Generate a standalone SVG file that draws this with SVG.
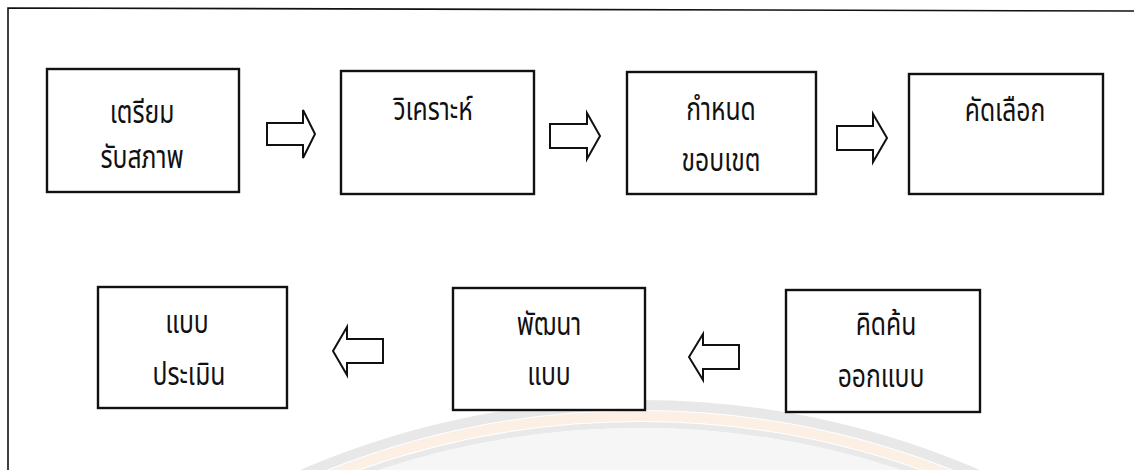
<svg xmlns="http://www.w3.org/2000/svg" width="1134" height="470" viewBox="0 0 1134 470">
<style>
.box{fill:#fff;stroke:#111;stroke-width:2.4}
.arr{fill:#fff;stroke:#111;stroke-width:2;stroke-linejoin:miter}
.t{font-family:"Noto Sans Thai","Tlwg Typo","Loma","Garuda","Noto Sans",sans-serif;font-size:26px;fill:#111;text-anchor:middle}
</style>
<rect width="1134" height="470" fill="#fff"/>
<g id="watermark" fill="none">
<circle cx="640" cy="1261" r="856" stroke="#e8e8e8" stroke-width="10"/>
<circle cx="640" cy="1261" r="845" stroke="#fcefe4" stroke-width="10"/>
<circle cx="640" cy="1261" r="836" stroke="#e9e9e9" stroke-width="6"/>
<circle cx="640" cy="1261" r="800" stroke="#f6f6f6" stroke-width="66"/>
</g>
<polyline id="frame" points="1134,11 8,8 8,470" fill="none" stroke="#111" stroke-width="1.6"/>
<g id="connectors">
<path class="arr" d="M267,123 H303 V110 L315,134 L303,158 V145 H267 Z"/>
<path class="arr" d="M550,124 H587 V113 L600,136 L587,159 V148 H550 Z"/>
<path class="arr" d="M837,126 H873 V114 L887,138 L873,162 V150 H837 Z"/>
<path class="arr" d="M383,339 H347 V327 L333,351 L347,375 V363 H383 Z"/>
<path class="arr" d="M739,345 H703 V334 L689,357 L703,380 V369 H739 Z"/>
</g>
<g id="n1"><rect class="box" x="47" y="69" width="192" height="123"/>
<text class="t" transform="translate(142,123) scale(0.95,1.2)">เตรียม</text><text class="t" transform="translate(142,168) scale(0.95,1.2)">รับสภาพ</text></g>
<g id="n2"><rect class="box" x="341" y="71" width="193" height="123"/>
<text class="t" transform="translate(433,120) scale(0.95,1.2)">วิเคราะห์</text></g>
<g id="n3"><rect class="box" x="627" y="72" width="189" height="122"/>
<text class="t" transform="translate(721,120) scale(0.95,1.2)">กำหนด</text><text class="t" transform="translate(721,171) scale(0.95,1.2)">ขอบเขต</text></g>
<g id="n4"><rect class="box" x="909" y="74" width="194" height="120"/>
<text class="t" transform="translate(1005,121) scale(0.95,1.2)">คัดเลือก</text></g>
<g id="n5"><rect class="box" x="98" y="287" width="189" height="121"/>
<text class="t" transform="translate(187,333) scale(0.95,1.2)">แบบ</text><text class="t" transform="translate(189,385) scale(0.95,1.2)">ประเมิน</text></g>
<g id="n6"><rect class="box" x="453" y="288" width="192" height="122"/>
<text class="t" transform="translate(549,335) scale(0.95,1.2)">พัฒนา</text><text class="t" transform="translate(549,385) scale(0.95,1.2)">แบบ</text></g>
<g id="n7"><rect class="box" x="786" y="290" width="194" height="122"/>
<text class="t" transform="translate(886,335) scale(0.95,1.2)">คิดค้น</text><text class="t" transform="translate(881,387) scale(0.95,1.2)">ออกแบบ</text></g>
</svg>
